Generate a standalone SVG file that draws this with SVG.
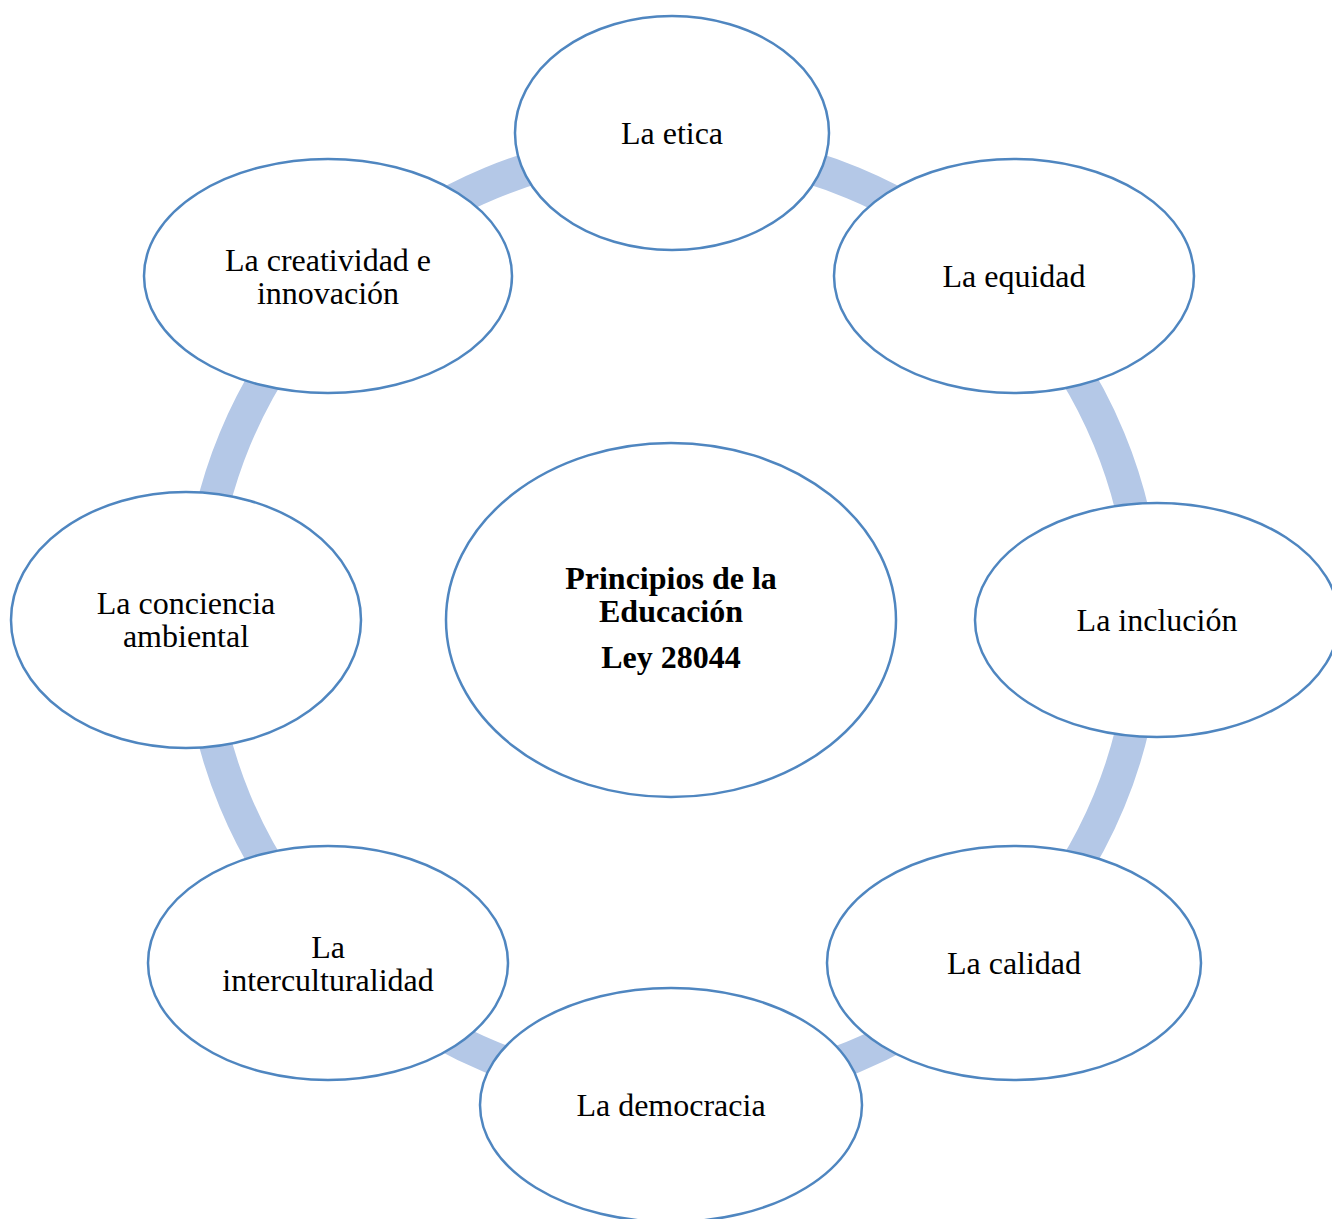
<svg xmlns="http://www.w3.org/2000/svg" width="1332" height="1219" viewBox="0 0 1332 1219">
<style>
.ring{fill:none;stroke:#B4C8E7;stroke-width:33}
.node{fill:#FFFFFF;stroke:#4F86C0;stroke-width:2.5}
.t{font-family:"Liberation Serif","Times New Roman",serif;font-size:32px;fill:#000;text-anchor:middle}
.b{font-weight:bold}
</style>
<rect width="1332" height="1219" fill="#FFFFFF"/>
<g id="connectors">
<path class="ring" d="M672,147 A473,473 0 0 1 1006.5,285.5"/>
<path class="ring" d="M1006.5,285.5 A473,473 0 0 1 1145,620"/>
<path class="ring" d="M1145,620 A473,473 0 0 1 1006.5,954.5"/>
<path class="ring" d="M1006.5,954.5 A473,473 0 0 1 672,1093"/>
<path class="ring" d="M672,1093 A473,473 0 0 1 337.5,954.5"/>
<path class="ring" d="M337.5,954.5 A473,473 0 0 1 199,620"/>
<path class="ring" d="M199,620 A473,473 0 0 1 337.5,285.5"/>
<path class="ring" d="M337.5,285.5 A473,473 0 0 1 672,147"/>
</g>
<g id="center">
<ellipse class="node" cx="671" cy="620" rx="225" ry="177"/>
<text class="t b" x="671" y="589">Principios de la</text>
<text class="t b" x="671" y="622">Educación</text>
<text class="t b" x="671" y="668">Ley 28044</text>
</g>
<g id="etica">
<ellipse class="node" cx="672" cy="133" rx="157" ry="117"/>
<text class="t" x="672" y="144">La etica</text>
</g>
<g id="equidad">
<ellipse class="node" cx="1014" cy="276" rx="180" ry="117"/>
<text class="t" x="1014" y="287">La equidad</text>
</g>
<g id="inclucion">
<ellipse class="node" cx="1157" cy="620" rx="182" ry="117"/>
<text class="t" x="1157" y="631">La inclución</text>
</g>
<g id="calidad">
<ellipse class="node" cx="1014" cy="963" rx="187" ry="117"/>
<text class="t" x="1014" y="974">La calidad</text>
</g>
<g id="democracia">
<ellipse class="node" cx="671" cy="1105" rx="191" ry="117"/>
<text class="t" x="671" y="1116">La democracia</text>
</g>
<g id="interculturalidad">
<ellipse class="node" cx="328" cy="963" rx="180" ry="117"/>
<text class="t" x="328" y="958">La</text>
<text class="t" x="328" y="991">interculturalidad</text>
</g>
<g id="conciencia">
<ellipse class="node" cx="186" cy="620" rx="175" ry="128"/>
<text class="t" x="186" y="614">La conciencia</text>
<text class="t" x="186" y="647">ambiental</text>
</g>
<g id="creatividad">
<ellipse class="node" cx="328" cy="276" rx="184" ry="117"/>
<text class="t" x="328" y="271">La creatividad e</text>
<text class="t" x="328" y="304">innovación</text>
</g>
</svg>
